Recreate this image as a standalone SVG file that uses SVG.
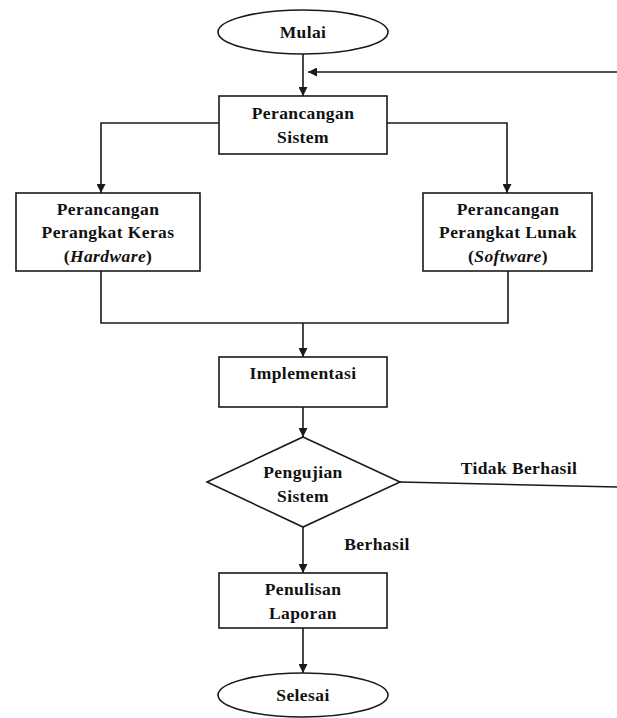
<svg xmlns="http://www.w3.org/2000/svg" width="617" height="718" viewBox="0 0 617 718">
  <style>
    .shape { fill: #ffffff; stroke: #1a1a1a; stroke-width: 1.6; }
    .line { fill: none; stroke: #1a1a1a; stroke-width: 1.6; }
    .arrow { marker-end: url(#head); }
    text { font-family: "Liberation Serif", "Times New Roman", serif; font-weight: bold; font-size: 17.5px; fill: #111111; text-anchor: middle; letter-spacing: 0.4px; }
    .it { font-style: italic; }
  </style>
  <defs>
    <marker id="head" viewBox="0 0 10 10" refX="10" refY="5" markerWidth="9" markerHeight="9" markerUnits="userSpaceOnUse" orient="auto">
      <path d="M0,0 L10,5 L0,10 z" fill="#1a1a1a"/>
    </marker>
  </defs>
  <rect width="617" height="718" fill="#ffffff"/>

  <g id="connectors">
    <path class="line arrow" d="M303,54 V96"/>
    <path class="line arrow" d="M617,72 H308"/>
    <path class="line arrow" d="M219,123 H101 V193"/>
    <path class="line arrow" d="M387,123 H507 V193"/>
    <path class="line" d="M101,271 V323 H508 V271"/>
    <path class="line arrow" d="M303,323 V357"/>
    <path class="line arrow" d="M303,407 V437"/>
    <path class="line" d="M400,482 L617,487"/>
    <path class="line arrow" d="M303,527 V573"/>
    <path class="line arrow" d="M303,628 V673"/>
  </g>

  <g id="mulai">
    <ellipse class="shape" cx="303" cy="32" rx="85" ry="22"/>
    <text x="303" y="38">Mulai</text>
  </g>

  <g id="perancangan-sistem">
    <rect class="shape" x="219" y="96" width="168" height="58"/>
    <text x="303" y="119">Perancangan</text>
    <text x="303" y="143">Sistem</text>
  </g>

  <g id="perangkat-keras">
    <rect class="shape" x="16" y="193" width="184" height="78"/>
    <text x="108" y="215">Perancangan</text>
    <text x="108" y="238">Perangkat Keras</text>
    <text x="108" y="262">(<tspan class="it">Hardware</tspan>)</text>
  </g>

  <g id="perangkat-lunak">
    <rect class="shape" x="423" y="193" width="169" height="78"/>
    <text x="508" y="215">Perancangan</text>
    <text x="508" y="238">Perangkat Lunak</text>
    <text x="508" y="262">(<tspan class="it">Software</tspan>)</text>
  </g>

  <g id="implementasi">
    <rect class="shape" x="219" y="357" width="168" height="50"/>
    <text x="303" y="379">Implementasi</text>
  </g>

  <g id="pengujian-sistem">
    <polygon class="shape" points="303,437 400,482 303,527 207,482"/>
    <text x="303" y="478">Pengujian</text>
    <text x="303" y="502">Sistem</text>
  </g>

  <g id="labels">
    <text x="519" y="474">Tidak Berhasil</text>
    <text x="377" y="550">Berhasil</text>
  </g>

  <g id="penulisan-laporan">
    <rect class="shape" x="219" y="573" width="168" height="55"/>
    <text x="303" y="595">Penulisan</text>
    <text x="303" y="619">Laporan</text>
  </g>

  <g id="selesai">
    <ellipse class="shape" cx="303" cy="695" rx="85" ry="22"/>
    <text x="303" y="701">Selesai</text>
  </g>
</svg>
